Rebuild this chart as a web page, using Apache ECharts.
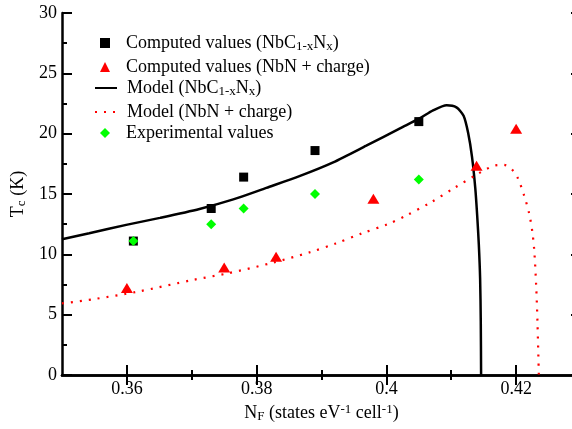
<!DOCTYPE html>
<html>
<head>
<meta charset="utf-8">
<script src="https://cdn.jsdelivr.net/npm/echarts@6/dist/echarts.min.js"></script>
<style>
  html, body { margin: 0; padding: 0; background: #fff; }
  #chart { width: 572px; height: 429px; }
</style>
</head>
<body>
<div id="chart"></div>
<script>
// ---- data ----
const xMajorTicks = [0.36, 0.38, 0.4, 0.42];
const xMinorTicks = [0.37, 0.39, 0.41];

// computed values (NbC1-xNx)
const computedNbC = [[0.361, 11.1], [0.373, 13.8], [0.378, 16.4], [0.389, 18.6], [0.405, 21.0]];
// computed values (NbN + charge)
const computedNbN = [[0.360, 7.2], [0.375, 8.9], [0.383, 9.8], [0.398, 14.6], [0.4139, 17.35], [0.420, 20.4]];
// experimental values
const experimental = [[0.361, 11.1], [0.373, 12.5], [0.378, 13.8], [0.389, 15.0], [0.405, 16.2]];
// model (NbC1-xNx)
const modelNbC = [
  [0.35, 11.25], [0.3542, 11.75], [0.3599, 12.44], [0.3651, 13.02], [0.3712, 13.76],
  [0.3764, 14.55], [0.3815, 15.51], [0.3867, 16.5], [0.3918, 17.62], [0.3969, 19.0],
  [0.4021, 20.44], [0.4052, 21.29], [0.4072, 21.93], [0.4093, 22.36], [0.4108, 22.18],
  [0.4119, 21.48], [0.4126, 20.07], [0.4132, 18.08], [0.4137, 15.51], [0.4140, 13.2],
  [0.41425, 10.8], [0.41445, 8.0], [0.41455, 4.5], [0.4146, 0]
];
// model (NbN + charge)
const modelNbN = [
  [0.35, 5.93], [0.3548, 6.28], [0.3616, 6.9], [0.3702, 7.88], [0.3756, 8.43],
  [0.3825, 9.31], [0.3882, 10.17], [0.3922, 10.9], [0.3963, 11.75], [0.4003, 12.52],
  [0.4030, 13.2], [0.4068, 14.29], [0.4104, 15.48], [0.4142, 16.7], [0.4154, 17.06],
  [0.4167, 17.36], [0.4181, 17.41], [0.4193, 17.06], [0.4202, 16.39], [0.4212, 14.93],
  [0.4220, 13.41], [0.4225, 11.86], [0.4228, 10.28], [0.4231, 7.27], [0.4233, 4.2],
  [0.4235, 0]
];

const FONT = 'Liberation Serif';
const rich = {
  t: { fontFamily: FONT, fontSize: 18, color: '#000', lineHeight: 20 },
  s: { fontFamily: FONT, fontSize: 13, color: '#000', lineHeight: 10, verticalAlign: 'bottom' },
  p: { fontFamily: FONT, fontSize: 13, color: '#000', lineHeight: 10, verticalAlign: 'top' }
};

const legendText = {
  'Computed values (NbC1-xNx)': '{t|Computed values (NbC}{s|1-x}{t|N}{s|x}{t|)}',
  'Computed values (NbN + charge)': '{t|Computed values (NbN + charge)}',
  'Model (NbC1-xNx)': '{t|Model (NbC}{s|1-x}{t|N}{s|x}{t|)}',
  'Model (NbN + charge)': '{t|Model (NbN + charge)}',
  'Experimental values': '{t|Experimental values}'
};

const gridBox = { left: 62, top: 13, right: -9, bottom: 54, outerBoundsMode: 'none' };
const black = '#000';
const noMark = { color: 'rgba(0,0,0,0)', borderWidth: 0 };

function legendBlock(top, symbolItems, names) {
  // symbol legends use a square icon box, line legends a 22px line
  return {
    left: symbolItems ? 100 : 94, top: top, orient: 'vertical', itemGap: 5, padding: 0,
    itemWidth: symbolItems ? 10 : 22, itemHeight: 10,
    formatter: function (name) { return legendText[name]; },
    textStyle: { rich: rich, padding: [0, 0, 0, symbolItems ? 11 : 5] },
    data: names.map(function (n) { return symbolItems ? { name: n } : { name: n, itemStyle: noMark }; })
  };
}

function xAxisBase(grid, pos, ticks, len, showLine) {
  return {
    type: 'value', gridIndex: grid, position: pos, min: 0.35, max: 0.43, interval: 0.01,
    axisLine: { show: showLine, lineStyle: { color: black, width: 2.5 } },
    axisTick: { show: true, inside: true, length: len, customValues: ticks, lineStyle: { color: black, width: 2 } },
    axisLabel: { show: false },
    splitLine: { show: false }
  };
}

const chart = echarts.init(document.getElementById('chart'));
chart.setOption({
  animation: false,
  backgroundColor: '#fff',
  grid: [Object.assign({}, gridBox), Object.assign({}, gridBox)],
  legend: [
    legendBlock(34, true, ['Computed values (NbC1-xNx)', 'Computed values (NbN + charge)']),
    legendBlock(79, false, ['Model (NbC1-xNx)', 'Model (NbN + charge)']),
    legendBlock(124, true, ['Experimental values'])
  ],
  xAxis: [
    Object.assign(xAxisBase(0, 'bottom', xMajorTicks, 10, true), {
      axisLabel: {
        show: true, customValues: xMajorTicks, margin: 5,
        fontFamily: FONT, fontSize: 18, color: black
      },
      name: '{t|N}{s|F}{t| (states eV}{p|-1}{t| cell}{p|-1}{t|)}',
      nameLocation: 'middle', nameGap: 27,
      nameTextStyle: { rich: rich }
    }),
    xAxisBase(0, 'top', xMajorTicks, 10, true),
    xAxisBase(1, 'bottom', xMinorTicks, 5, false),
    xAxisBase(1, 'top', xMinorTicks, 5, false)
  ],
  yAxis: [
    {
      type: 'value', gridIndex: 0, position: 'left', min: 0, max: 30, interval: 5,
      axisLine: { show: true, lineStyle: { color: black, width: 2.5 } },
      axisTick: { inside: true, length: 10, lineStyle: { color: black, width: 2 } },
      minorTick: { show: true, splitNumber: 2, length: 5, lineStyle: { color: black, width: 2 } },
      axisLabel: { margin: 5, fontFamily: FONT, fontSize: 18, color: black },
      splitLine: { show: false },
      name: '{t|T}{s|c}{t| (K)}', nameLocation: 'middle', nameGap: 30,
      nameTextStyle: { rich: rich }
    },
    {
      type: 'value', gridIndex: 0, position: 'right', min: 0, max: 30, interval: 5,
      axisLine: { show: true, lineStyle: { color: black, width: 2.5 } },
      axisTick: { inside: true, length: 10, lineStyle: { color: black, width: 2 } },
      minorTick: { show: true, splitNumber: 2, length: 5, lineStyle: { color: black, width: 2 } },
      axisLabel: { show: false },
      splitLine: { show: false }
    },
    { type: 'value', gridIndex: 1, min: 0, max: 30, show: false },
    { type: 'value', gridIndex: 1, min: 0, max: 30, show: false, position: 'right' }
  ],
  series: [
    {
      name: 'Model (NbC1-xNx)', type: 'line', xAxisIndex: 0, yAxisIndex: 0,
      data: modelNbC, symbol: 'none', smooth: 0.25, z: 2,
      lineStyle: { color: black, width: 2.5 }, itemStyle: { color: black }
    },
    {
      name: 'Model (NbN + charge)', type: 'line', xAxisIndex: 0, yAxisIndex: 0,
      data: modelNbN, symbol: 'none', smooth: 0.3, z: 2,
      lineStyle: { color: '#ff0000', width: 2.2, type: [2, 7] }, itemStyle: { color: '#ff0000' }
    },
    {
      name: 'Computed values (NbC1-xNx)', type: 'scatter', xAxisIndex: 0, yAxisIndex: 0,
      data: computedNbC, symbol: 'rect', symbolSize: 9, z: 3,
      itemStyle: { color: black, opacity: 1 }
    },
    {
      name: 'Computed values (NbN + charge)', type: 'scatter', xAxisIndex: 0, yAxisIndex: 0,
      data: computedNbN, symbol: 'triangle', symbolSize: [12, 10], z: 3,
      itemStyle: { color: '#ff0000', opacity: 1 }
    },
    {
      name: 'Experimental values', type: 'scatter', xAxisIndex: 0, yAxisIndex: 0,
      data: experimental, symbol: 'diamond', symbolSize: 10, z: 4,
      itemStyle: { color: '#00ff00', opacity: 1 }
    }
  ]
});
</script>
</body>
</html>
